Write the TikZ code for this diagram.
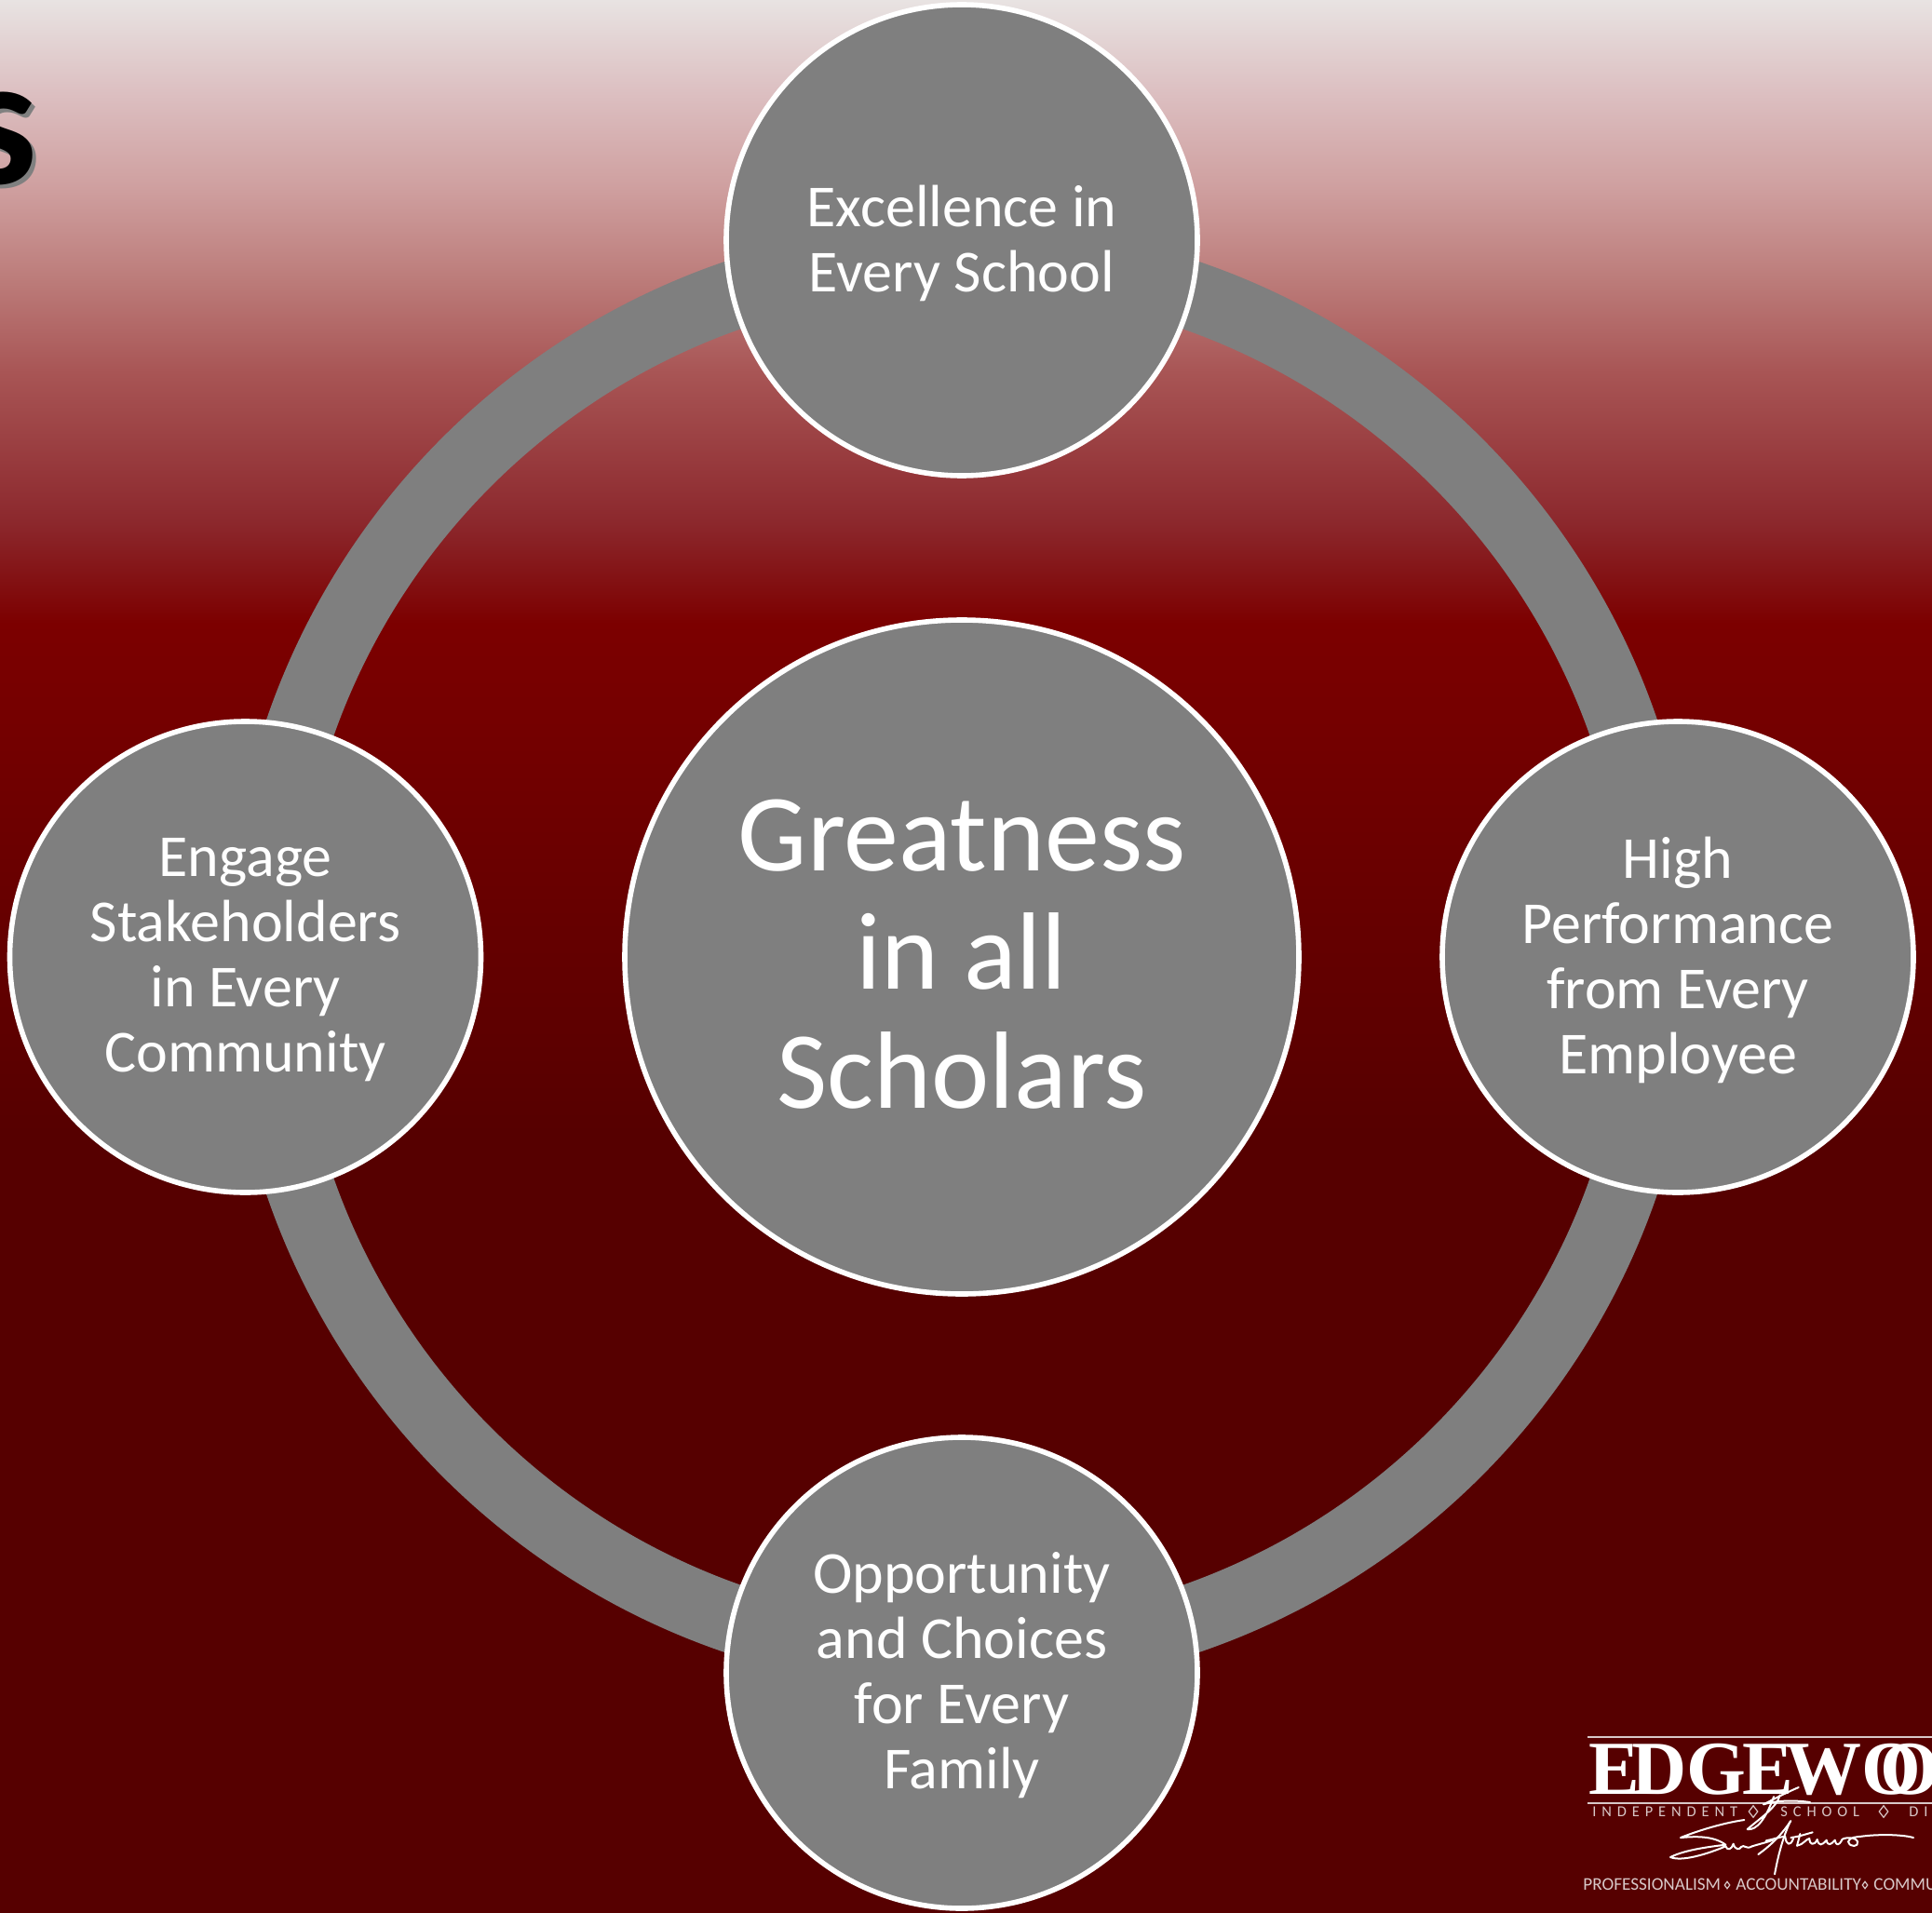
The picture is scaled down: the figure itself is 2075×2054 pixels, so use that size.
\documentclass[tikz,border=0pt]{standalone}
\usepackage{fontspec}
\setmainfont{Carlito}
\newfontfamily\logoserif{Liberation Serif}
\newfontfamily\spacedsans[LetterSpace=36]{Carlito}
\usetikzlibrary{shapes.geometric}
\pgfdeclareverticalshading{bgshade}{100bp}{
  rgb(0bp)=(0.337,0,0); rgb(25bp)=(0.337,0,0); rgb(45.3bp)=(0.337,0,0);
  rgb(58.7bp)=(0.486,0,0); rgb(61.37bp)=(0.549,0.157,0.176);
  rgb(65.26bp)=(0.659,0.333,0.333); rgb(67.7bp)=(0.737,0.486,0.478);
  rgb(70.13bp)=(0.812,0.627,0.627); rgb(72.57bp)=(0.863,0.749,0.757);
  rgb(75bp)=(0.91,0.89,0.886); rgb(100bp)=(0.91,0.89,0.886)}
\definecolor{discgray}{HTML}{7F7F7F}
\definecolor{titleshadow}{HTML}{808080}
\definecolor{logosoft}{HTML}{D8C8C8}
\tikzset{
  disc/.style={circle,draw=white,line width=2.8pt,fill=discgray,inner sep=0pt,minimum size=253pt},
  hubdisc/.style={disc,minimum size=362pt},
  disctext/.style={text=white,inner sep=0pt,align=center},
  smalltext/.style={disctext,yshift=-1.5pt,font=\fontsize{32}{35}\selectfont},
  bigtext/.style={disctext,yshift=1.5pt,font=\fontsize{59}{63.8}\selectfont},
  ringline/.style={draw=discgray,line width=37pt},
  logorule/.style={draw=logosoft,line width=0.7pt},
  logotext/.style={text=white,inner sep=0pt},
  logodiamond/.style={diamond,draw=logosoft,line width=0.6pt,inner sep=0pt,minimum width=5pt,minimum height=6.5pt,aspect=0.8},
  sign/.style={draw=white,line width=1pt,line cap=round,line join=round}
}
\begin{document}
\begin{tikzpicture}[x=0.5pt,y=-0.5pt]
\useasboundingbox (0,0) rectangle (2075,2054);
\clip (0,0) rectangle (2075,2054);
\path[shading=bgshade] (0,0) rectangle (2075,2054);
% title fragment
\node[anchor=base east,inner sep=0pt,text=titleshadow,font=\fontsize{100}{100}\selectfont\bfseries] (titleshade) at (45,202) {s};
\node[anchor=base east,inner sep=0pt,text=black,font=\fontsize{100}{100}\selectfont\bfseries] (title) at (41,198) {s};
% hub and ring
\coordinate (ringcentre) at (1033,1028);
\draw[ringline] (ringcentre) circle[radius=752];
\node[hubdisc] (hub) at (1033,1028) {};
\node[disc] (top) at (1033,258) {};
\node[disc] (right) at (1802,1028) {};
\node[disc] (bottom) at (1033,1797) {};
\node[disc] (left) at (263.5,1028) {};
\node[bigtext] (hubtext) at (hub.center) {Greatness\\in all\\Scholars};
\node[smalltext] (toptext) at (top.center) {Excellence in\\Every School};
\node[smalltext] (righttext) at (right.center) {High\\Performance\\from Every\\Employee};
\node[smalltext] (bottomtext) at (bottom.center) {Opportunity\\and Choices\\for Every\\Family};
\node[smalltext] (lefttext) at (left.center) {Engage\\Stakeholders\\in Every\\Community};
% logo
\coordinate (ruleA) at (1705,1866);
\coordinate (ruleB) at (1705,1937);
\draw[logorule] (ruleA) -- (2075,1866);
\draw[logorule] (ruleB) -- (2075,1937);
\node[logotext,anchor=base west,font=\logoserif\bfseries\fontsize{41}{41}\selectfont] (edgewood) at (1706,1927)
  {E\kern-4.5pt D\kern0pt G\kern-2pt E\kern-4pt W\kern0pt O\kern-22pt O};
\node[logotext,text=logosoft,anchor=base west,font=\spacedsans\fontsize{8.2}{8.2}\selectfont] (indep) at (1710,1951) {INDEPENDENT};
\node[logodiamond] (diaA) at (1883,1946) {};
\node[logotext,text=logosoft,anchor=base west,font=\spacedsans\fontsize{8.2}{8.2}\selectfont] (school) at (1912,1951) {SCHOOL};
\node[logodiamond] (diaB) at (2023,1946) {};
\node[logotext,text=logosoft,anchor=base west,font=\spacedsans\fontsize{8.2}{8.2}\selectfont] (dist) at (2050,1951) {DI};
\node[logotext,text=logosoft,anchor=base west,font=\fontsize{9.6}{9.6}\selectfont] (prof) at (1700,2030) {PROFESSIONALISM};
\node[logodiamond,minimum width=3pt,minimum height=4pt] (diaC) at (1855,2025) {};
\node[logotext,text=logosoft,anchor=base west,font=\fontsize{9.6}{9.6}\selectfont] (acc) at (1864,2030) {ACCOUNTABILITY};
\node[logodiamond,minimum width=3pt,minimum height=4pt] (diaD) at (2003,2025) {};
\node[logotext,text=logosoft,anchor=base west,font=\fontsize{9.6}{9.6}\selectfont] (comm) at (2012,2030) {COMMU};
% signature
\begin{scope}[shift={(1780,1910)},x=0.1667pt,y=-0.1667pt]
\draw[sign] (280,135) .. controls (210,145) and (130,170) .. (75,192) .. controls (120,188) and (180,185) .. (220,215)
  .. controls (180,220) and (90,230) .. (42,255) .. controls (80,270) and (160,245) .. (220,220)
  .. controls (225,235) and (240,230) .. (245,212) .. controls (250,232) and (265,232) .. (270,222)
  .. controls (280,212) and (285,232) .. (305,220) .. controls (330,212) and (350,208) .. (372,200);
\draw[sign] (430,138) .. controls (405,175) and (375,210) .. (325,246);
\draw[sign] (428,140) .. controls (405,190) and (390,245) .. (378,310);
\draw[sign] (350,202) .. controls (380,195) and (395,190) .. (412,188);
\draw[sign] (430,192) .. controls (460,188) and (480,180) .. (500,175);
\draw[sign] (460,180) -- (450,218);
\draw[sign] (412,190) .. controls (415,215) and (428,222) .. (438,195);
\draw[sign] (450,218) .. controls (470,215) and (480,195) .. (490,195) .. controls (490,215) and (505,220) .. (515,198)
  .. controls (520,220) and (530,218) .. (545,200) .. controls (548,220) and (560,215) .. (572,200)
  .. controls (575,218) and (585,220) .. (595,198) .. controls (605,190) and (640,190) .. (645,205)
  .. controls (650,222) and (620,225) .. (615,205) .. controls (620,190) and (640,190) .. (658,188)
  .. controls (700,182) and (780,180) .. (825,192);
\draw[sign] (455,30) .. controls (420,45) and (380,65) .. (342,85) .. controls (390,70) and (450,72) .. (492,78);
\draw[sign] (395,55) .. controls (385,95) and (330,130) .. (290,165) .. controls (320,170) and (350,130) .. (375,60);
\end{scope}
\end{tikzpicture}
\end{document}
